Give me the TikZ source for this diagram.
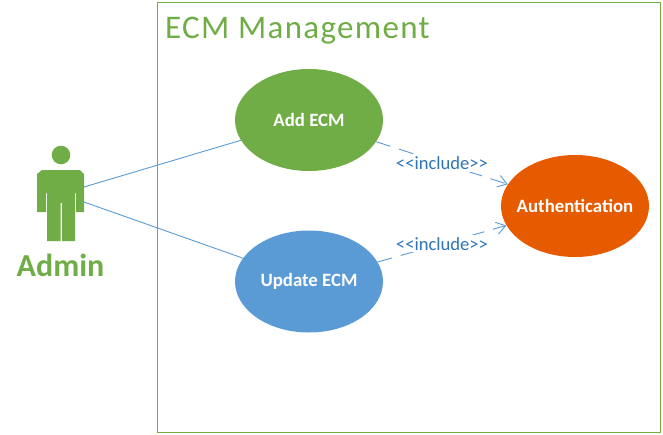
\documentclass[tikz,border=0pt]{standalone}
\usepackage{fontspec}
\setmainfont{Carlito}
\usetikzlibrary{shapes.geometric,arrows.meta}
\definecolor{ecmgreen}{HTML}{70AD47}
\definecolor{ecmblue}{HTML}{5B9BD5}
\definecolor{ecmorange}{HTML}{E65A00}
\definecolor{ecmtext}{HTML}{2E75B6}
\tikzset{
  usecase/.style={ellipse,minimum width=148pt,minimum height=102pt,inner sep=-12pt,
    text=white,font=\fontsize{18.8}{22}\selectfont\bfseries},
  link/.style={ecmblue,line width=0.9pt},
  includelink/.style={link,dash pattern=on 15pt off 9pt,-{Straight Barb[length=9pt,width=12pt]}},
  includelabel/.style={fill=white,inner sep=2pt,text=ecmtext,font=\fontsize{18.6}{22}\selectfont}
}
\begin{document}
\begin{tikzpicture}[x=1pt,y=-1pt]
  \useasboundingbox (0,0) rectangle (663,434);
  \draw[ecmgreen,line width=1pt] (157,2.5) rectangle (660.5,432.5);
  \node[anchor=west,inner sep=0pt,text=ecmgreen,font=\fontsize{33}{40}\selectfont\addfontfeature{LetterSpace=4}] (title) at (165,31) {ECM Management};
  % actor
  \fill[ecmgreen] (61,155) circle (9.3);
  \fill[ecmgreen] (42,170) -- (80,170) -- (84,174) -- (84,212) -- (76,212) -- (76,193) -- (75,193)
    -- (75,241) -- (62,241) -- (62,203) -- (60.5,203) -- (60.5,241) -- (47,241) -- (47,193)
    -- (46,193) -- (46,212) -- (37,212) -- (37,174) -- cycle;
  \node[text=ecmgreen,font=\fontsize{32}{38}\selectfont\bfseries] (admin) at (60.5,265.5) {Admin};
  \coordinate (adminup) at (84,187);
  \coordinate (admindown) at (84,202);
  % use cases
  \node[usecase,fill=ecmgreen] (addecm) at (309,120) {Add ECM};
  \node[usecase,fill=ecmblue] (updateecm) at (309,281.5) {Update ECM};
  \node[usecase,fill=ecmorange] (auth) at (575,206) {Authentication};
  \begin{scope}[link]
    \draw (adminup) to (addecm);
    \draw (admindown) to (updateecm);
  \end{scope}
  \draw[includelink] (addecm) to node[includelabel] (inca) {<{}<include>{}>} (auth);
  \draw[includelink] (updateecm) to node[includelabel] (incb) {<{}<include>{}>} (auth);
\end{tikzpicture}
\end{document}
